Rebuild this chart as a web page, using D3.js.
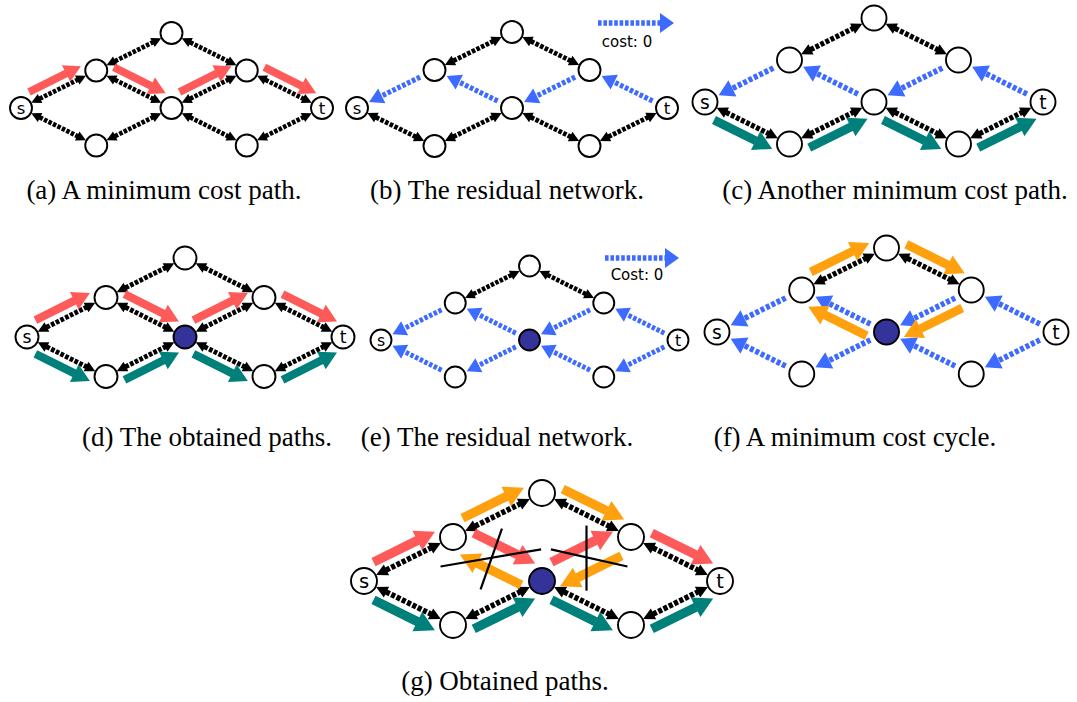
<!DOCTYPE html>
<html>
<head>
<meta charset="utf-8">
<script src="https://cdn.jsdelivr.net/npm/d3@7"></script>
<style>
  html, body { margin: 0; background: #fff; }
  svg { display: block; }
</style>
</head>
<body>
<svg id="fig" width="1077" height="702"></svg>
<script>
// ---- network: nodes placed on a column / row grid ----
const nodeIds    = ["s", "a", "top", "m", "b", "t", "c", "d"];
const nodeCols   = [0, 1, 2, 2, 3, 4, 1, 3];
const nodeRows   = [0, -1, -2, 0, -1, 0, 1, 1];
const nodeLabels = ["s", "", "", "", "", "t", "", ""];

// ---- arcs ----
const arcsFull     = [["s","a"],["s","c"],["a","top"],["a","m"],["c","m"],["top","b"],["m","b"],["m","d"],["b","t"],["d","t"]];
const arcsLowerTop = [["a","top"],["top","b"],["s","c"],["c","m"],["m","d"],["d","t"]];
const arcsTop      = [["a","top"],["top","b"]];
const arcsNoCenter = [["s","a"],["s","c"],["a","top"],["top","b"],["b","t"],["c","m"],["m","d"],["d","t"]];
const residualUpper = [["a","s"],["m","a"],["b","m"],["t","b"]];
const residualBoth  = [["a","s"],["m","a"],["b","m"],["t","b"],["c","s"],["m","c"],["d","m"],["t","d"]];
const struckArcs    = [["a","m"],["m","b"]];

// ---- paths ----
const upperPath = ["s","a","m","b","t"];
const lowerPath = ["s","c","m","d","t"];
const cyclePath = ["a","top","b","m","a"];

// ---- sub-figures ----
const captions = [
  "(a) A minimum cost path.",
  "(b) The residual network.",
  "(c) Another minimum cost path.",
  "(d) The obtained paths.",
  "(e) The residual network.",
  "(f) A minimum cost cycle.",
  "(g) Obtained paths."
];
const panelBlack  = [arcsFull, arcsLowerTop, arcsLowerTop, arcsFull, arcsTop, arcsTop, arcsNoCenter];
const panelBlue   = [[], residualUpper, residualUpper, [], residualBoth, residualBoth, []];
const panelPaths  = [["upper"], [], ["lower"], ["upper","lower"], [], ["cycle"], ["upper","lower","cycle"]];
const panelFilled = [[], [], [], ["m"], ["m"], ["m"], ["m"]];
const panelStruck = [[], [], [], [], [], [], struckArcs];
const legendText  = [null, "cost: 0", null, null, "Cost: 0", null, null];

// ---- drawing configuration ----
const pathStyle = {
  upper: { nodes: upperPath, color: "#ff5a5a", side: 1 },
  lower: { nodes: lowerPath, color: "#00807a", side: -1 },
  cycle: { nodes: cyclePath, color: "#ffa10e", side: 1 }
};
const BLUE = "#3d6bff", BLACK = "#000", NODE_FILL = "#333399";

// frame of each sub-figure: x of s and t, y of s, row step, node radius, caption
const frames = [
  { sx: 21,  tx: 322,  sy: 108, dy: 37.5, r: 11,   capX: 164, capY: 199 },
  { sx: 357, tx: 667,  sy: 108, dy: 38,   r: 11,   capX: 507, capY: 199 },
  { sx: 705, tx: 1043, sy: 102, dy: 42,   r: 12.5, capX: 895, capY: 199 },
  { sx: 27,  tx: 343,  sy: 337, dy: 39.5, r: 11.5, capX: 207, capY: 446 },
  { sx: 381, tx: 678,  sy: 340, dy: 37,   r: 10.5, capX: 497, capY: 446 },
  { sx: 717, tx: 1056, sy: 332, dy: 42,   r: 12.5, capX: 855, capY: 446 },
  { sx: 364, tx: 720,  sy: 581, dy: 44,   r: 13,   capX: 505, capY: 690 }
];
const legends = [null, { x1: 598, x2: 674, y: 23, tx: 627, ty: 47 }, null, null,
                 { x1: 605, x2: 679, y: 258, tx: 637, ty: 280 }, null, null];

// strike marks across a cancelled arc, in grid units relative to the arc midpoint
const strikeMarks = [
  [[-0.64, 0.17, 0.49, -0.22], [0.05, -0.69, -0.19, 0.69]],
  [[-0.40, -0.22, 0.46, 0.17], [0.0, -0.76, 0.0, 0.72]]
];

const svg = d3.select("#fig");

function drawArrow(g, x1, y1, x2, y2, st, both) {
  const L = Math.hypot(x2 - x1, y2 - y1);
  const ux = (x2 - x1) / L, uy = (y2 - y1) / L;
  const hl = st.headLen, hw = st.headHalf;
  const ax = both ? x1 + ux * (hl - 0.5) : x1, ay = both ? y1 + uy * (hl - 0.5) : y1;
  const bx = x2 - ux * hl, by = y2 - uy * hl;
  g.append("line")
    .attr("x1", ax).attr("y1", ay)
    .attr("x2", bx + ux * 0.5).attr("y2", by + uy * 0.5)
    .attr("stroke", st.color).attr("stroke-width", st.width)
    .attr("stroke-dasharray", st.dash || null)
    .attr("stroke-linecap", "butt");
  const head = (tx, ty, dx, dy) => {
    const cx = tx - dx * hl, cy = ty - dy * hl;
    g.append("polygon")
      .attr("points", [[tx, ty], [cx - dy * hw, cy + dx * hw], [cx + dy * hw, cy - dx * hw]].map(p => p.join(",")).join(" "))
      .attr("fill", st.color);
  };
  head(x2, y2, ux, uy);
  if (both) head(x1, y1, -ux, -uy);
}

frames.forEach((f, i) => {
  const k = (f.tx - f.sx) / 4 / 77;
  const x = d3.scaleLinear().domain([0, 4]).range([f.sx, f.tx]);
  const y = d3.scaleLinear().domain([0, 1]).range([f.sy, f.sy + f.dy]);
  const pos = {};
  nodeIds.forEach((id, j) => { pos[id] = [x(nodeCols[j]), y(nodeRows[j])]; });

  const g = svg.append("g").attr("class", "panel-" + "abcdefg"[i]);

  const seg = (from, to, g0, g1) => {
    const [x1, y1] = pos[from], [x2, y2] = pos[to];
    const L = Math.hypot(x2 - x1, y2 - y1), ux = (x2 - x1) / L, uy = (y2 - y1) / L;
    return [x1 + ux * g0, y1 + uy * g0, x2 - ux * g1, y2 - uy * g1];
  };

  // two-way arcs of the network
  const blackStyle = { color: BLACK, width: 4.8 * k, dash: `${3.6 * k},${1.5 * k}`, headLen: 10 * k, headHalf: 5.2 * k };
  panelBlack[i].forEach(([u, v]) => {
    const [x1, y1, x2, y2] = seg(u, v, f.r + 0.5, f.r + 0.5);
    drawArrow(g, x1, y1, x2, y2, blackStyle, true);
  });

  // residual arcs with zero cost
  const blueStyle = { color: BLUE, width: 5.2 * k, dash: `${3.6 * k},${1.8 * k}`, headLen: 14 * k, headHalf: 8.2 * k };
  panelBlue[i].forEach(([u, v]) => {
    const [x1, y1, x2, y2] = seg(u, v, f.r + 5 * k, f.r + 2.5 * k);
    drawArrow(g, x1, y1, x2, y2, blueStyle, false);
  });

  // highlighted flow paths, drawn beside the arcs
  panelPaths[i].forEach(name => {
    const ps = pathStyle[name];
    const st = { color: ps.color, width: 8 * k, headLen: 17 * k, headHalf: 9.5 * k };
    for (let j = 0; j < ps.nodes.length - 1; j++) {
      const [x1, y1] = pos[ps.nodes[j]], [x2, y2] = pos[ps.nodes[j + 1]];
      const L = Math.hypot(x2 - x1, y2 - y1), ux = (x2 - x1) / L, uy = (y2 - y1) / L;
      const ox = uy * 11 * k * ps.side, oy = -ux * 11 * k * ps.side;
      drawArrow(g,
        x1 + (x2 - x1) * 0.17 + ox, y1 + (y2 - y1) * 0.17 + oy,
        x1 + (x2 - x1) * 0.86 + ox, y1 + (y2 - y1) * 0.86 + oy, st, false);
    }
  });

  // strike marks over cancelled arcs
  panelStruck[i].forEach(([u, v], j) => {
    const c = nodeCols[nodeIds.indexOf(u)] / 2 + nodeCols[nodeIds.indexOf(v)] / 2;
    const r = nodeRows[nodeIds.indexOf(u)] / 2 + nodeRows[nodeIds.indexOf(v)] / 2;
    strikeMarks[j].forEach(([c1, r1, c2, r2]) => {
      g.append("line")
        .attr("x1", x(c + c1)).attr("y1", y(r + r1))
        .attr("x2", x(c + c2)).attr("y2", y(r + r2))
        .attr("stroke", BLACK).attr("stroke-width", 2.2);
    });
  });

  // nodes
  const nd = g.selectAll("g.node").data(nodeIds).join("g").attr("class", "node")
    .attr("transform", id => `translate(${pos[id][0]},${pos[id][1]})`);
  nd.append("circle").attr("r", f.r)
    .attr("fill", id => panelFilled[i].includes(id) ? NODE_FILL : "#fff")
    .attr("stroke", BLACK).attr("stroke-width", 1.9);
  nd.filter((id, j) => nodeLabels[j]).append("text")
    .text(id => nodeLabels[nodeIds.indexOf(id)])
    .attr("text-anchor", "middle").attr("dy", "0.36em")
    .attr("font-family", "DejaVu Sans, Verdana, sans-serif")
    .attr("font-size", 1.5 * f.r).attr("fill", BLACK);

  // legend for the residual arcs
  const lg = legends[i];
  if (lg) {
    drawArrow(g, lg.x1, lg.y, lg.x2, lg.y,
      { color: BLUE, width: 5.5, dash: "3.6,1.8", headLen: 14, headHalf: 10 }, false);
    g.append("text").text(legendText[i])
      .attr("x", lg.tx).attr("y", lg.ty).attr("text-anchor", "middle")
      .attr("font-family", "DejaVu Sans, Verdana, sans-serif").attr("font-size", 15);
  }

  // caption
  svg.append("text").text(captions[i])
    .attr("x", f.capX).attr("y", f.capY).attr("text-anchor", "middle")
    .attr("font-family", "Liberation Serif, Times New Roman, serif")
    .attr("font-size", 27).attr("fill", BLACK);
});
</script>
</body>
</html>
